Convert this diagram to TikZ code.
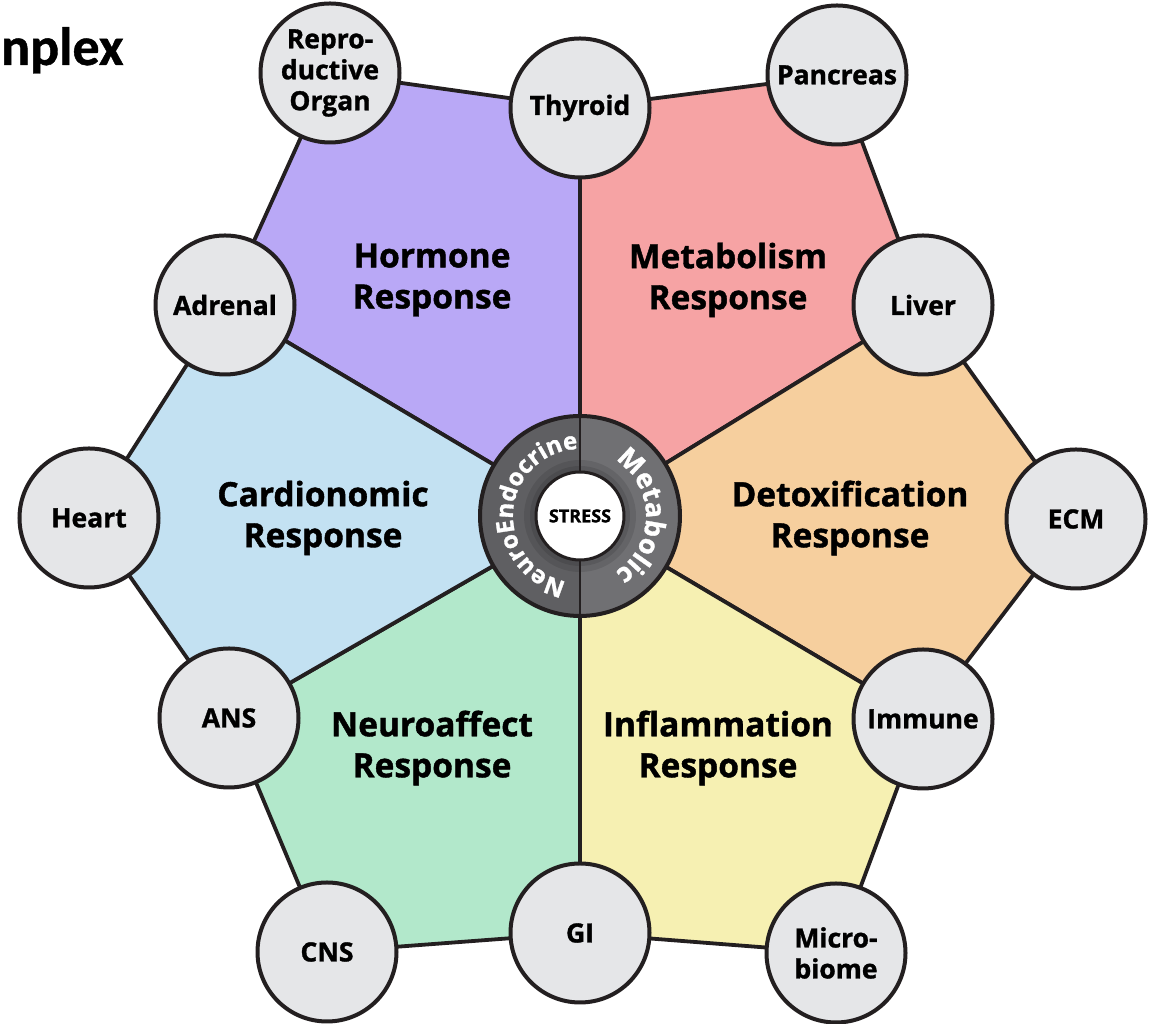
\documentclass[tikz,border=0pt]{standalone}
\usepackage{fontspec}
\setmainfont{Open Sans}[BoldFeatures={FakeBold=1.2}]
\newfontfamily\titlefont{Carlito}[BoldFeatures={FakeBold=0.8}]
\usetikzlibrary{decorations.text}
\definecolor{linec}{HTML}{231F20}
\definecolor{organfill}{HTML}{E5E6E8}
\definecolor{cHormone}{HTML}{B9A8F6}
\definecolor{cMetab}{HTML}{F6A3A4}
\definecolor{cDetox}{HTML}{F6CF9E}
\definecolor{cInfl}{HTML}{F6F0B2}
\definecolor{cNeuro}{HTML}{B2E8CB}
\definecolor{cCardio}{HTML}{C3E1F2}
\definecolor{ringL}{HTML}{5F5F62}
\definecolor{ringR}{HTML}{707073}
\newcommand\organfont{\bfseries\fontsize{26.5}{31}\selectfont}
\newcommand\respfont{\bfseries\fontsize{33.5}{41}\selectfont}
\newcommand\ringfontA{\bfseries\fontsize{24}{24}\selectfont}
\newcommand\ringfontB{\bfseries\fontsize{27}{27}\selectfont}
\pgfdeclareradialshading{stressglow}{\pgfpoint{0bp}{0bp}}{color(0bp)=(white); color(34bp)=(white); color(50bp)=(black!22)}
\tikzset{
  organ/.style={circle, draw=linec, line width=4pt, fill=organfill, minimum size=139pt, inner sep=0pt, align=center, font=\organfont, text=black},
  resp/.style={align=center, font=\respfont, text=black},
  sector/.style={draw=linec, line width=3.8pt, line join=round},
}
\begin{document}
\begin{tikzpicture}[x=1pt,y=1pt]
\fill[white] (0,0) rectangle (1163,1024);
\useasboundingbox (0,0) rectangle (1163,1024);
% positions
\coordinate (C) at (580,508);
\coordinate (pThy) at (580,916);
\coordinate (pRep) at (330,951);
\coordinate (pPan) at (837,949);
\coordinate (pAdr) at (225,719);
\coordinate (pLiv) at (923,719);
\coordinate (pHea) at (89,506);
\coordinate (pECM) at (1076,505);
\coordinate (pANS) at (229,306);
\coordinate (pImm) at (923,305);
\coordinate (pCNS) at (327,72);
\coordinate (pGI) at (580,91);
\coordinate (pMic) at (836,71);
% sectors
\path[sector, fill=cHormone] (C) -- (pThy) -- (pRep) -- (pAdr) -- cycle;
\path[sector, fill=cMetab] (C) -- (pThy) -- (pPan) -- (pLiv) -- cycle;
\path[sector, fill=cDetox] (C) -- (pLiv) -- (pECM) -- (pImm) -- cycle;
\path[sector, fill=cInfl] (C) -- (pImm) -- (pMic) -- (pGI) -- cycle;
\path[sector, fill=cNeuro] (C) -- (pGI) -- (pCNS) -- (pANS) -- cycle;
\path[sector, fill=cCardio] (C) -- (pANS) -- (pHea) -- (pAdr) -- cycle;
% response labels
\node[resp] (hormone) at (432,744) {Hormone\\Response};
\node[resp] (metab) at (728,744) {Metabolism\\Response};
\node[resp] (cardio) at (323,506) {Cardionomic\\Response};
\node[resp] (detox) at (850,506) {Detoxification\\Response};
\node[resp] (neuro) at (432,276) {Neuroaffect\\Response};
\node[resp] (infl) at (718,276) {Inflammation\\Response};
% organ circles
\node[organ] (thy) at (pThy) {Thyroid};
\node[organ] (rep) at (pRep) {Repro-\\ductive\\Organ};
\node[organ] (pan) at (pPan) {Pancreas};
\node[organ] (adr) at (pAdr) {Adrenal};
\node[organ] (liv) at (pLiv) {Liver};
\node[organ] (hea) at (pHea) {Heart};
\node[organ] (ecm) at (pECM) {ECM};
\node[organ] (ans) at (pANS) {ANS};
\node[organ] (imm) at (pImm) {Immune};
\node[organ] (cns) at (pCNS) {CNS};
\node[organ] (gi) at (pGI) {GI};
\node[organ] (mic) at (pMic) {Micro-\\biome};
% central ring
\fill[ringL] (C) ++(90:100) arc[start angle=90, end angle=270, radius=100] -- cycle;
\fill[ringR] (C) ++(-90:100) arc[start angle=-90, end angle=90, radius=100] -- cycle;
\fill[black, opacity=0.10] (C) circle[radius=56];
\fill[black, opacity=0.10] (C) circle[radius=50];
\draw[linec, line width=2.5pt] (C) ++(0,100) -- ++(0,-200);
\draw[linec, line width=4pt] (C) circle[radius=100];
\node[circle, draw=linec, line width=3pt, minimum size=88pt, inner sep=0pt, shading=stressglow, font=\bfseries\fontsize{18}{18}\selectfont, text=black] (stress) at (C) {STRESS};
\path[decorate, decoration={text along path, text align=center, text color=white, text={|\ringfontA|NeuroEndocrine}}]
  (C) ++(264:67) arc[start angle=264, end angle=86, radius=67];
\path[decorate, decoration={text along path, text align=center, text color=white, text={|\ringfontB|Metabolic}}]
  (C) ++(72:66) arc[start angle=72, end angle=-72, radius=66];
% title fragment
\node[anchor=base west, inner sep=0pt, font=\titlefont\bfseries\fontsize{54}{54}\selectfont] (title) at (1,959) {nplex};
\end{tikzpicture}
\end{document}
